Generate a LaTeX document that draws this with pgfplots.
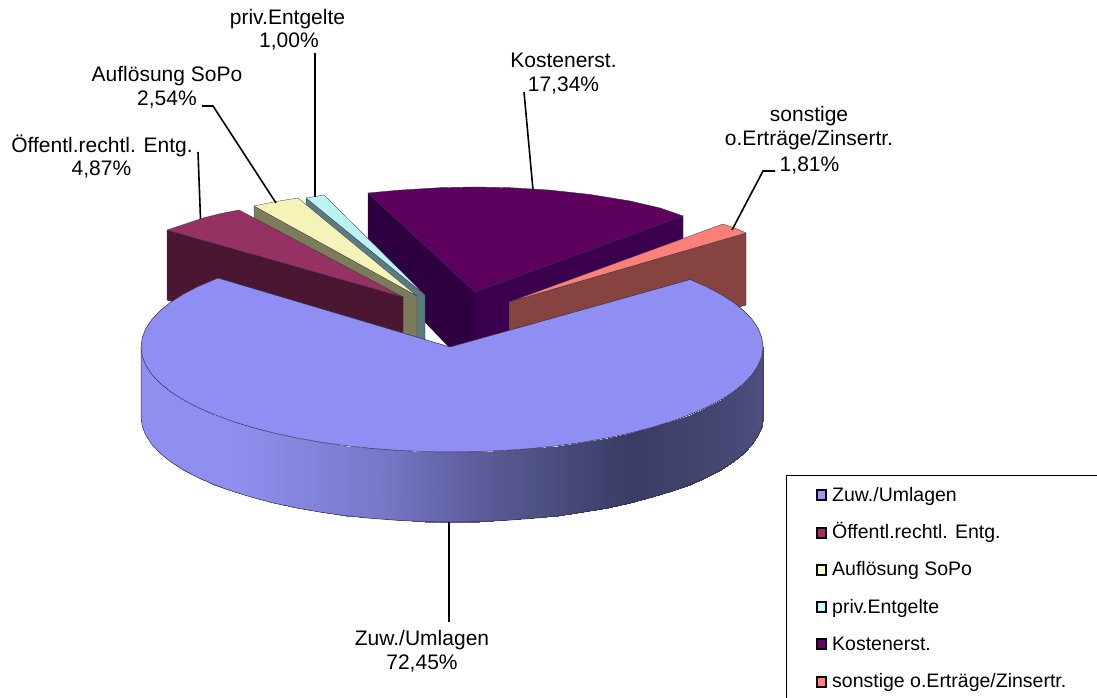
\documentclass[border=0pt]{standalone}
\usepackage{fontspec}
\setmainfont{Liberation Sans}
\usepackage{pgfplots}
\pgfplotsset{compat=1.18}
\definecolor{cA}{HTML}{8F8FF3}
\definecolor{lA}{HTML}{9999FF}
\definecolor{cB}{HTML}{953163}
\definecolor{sB}{HTML}{4B1632}
\definecolor{lB}{HTML}{993366}
\definecolor{cC}{HTML}{F6F3B9}
\definecolor{sC}{HTML}{7C7B5A}
\definecolor{lC}{HTML}{FFFFCC}
\definecolor{cD}{HTML}{BBF3F3}
\definecolor{sD}{HTML}{5A7C80}
\definecolor{lD}{HTML}{CCFFFF}
\definecolor{cE}{HTML}{5E005E}
\definecolor{sE}{HTML}{3A004E}
\definecolor{tE}{HTML}{2E0040}
\definecolor{lE}{HTML}{660066}
\definecolor{cF}{HTML}{FB8078}
\definecolor{sF}{HTML}{874340}
\definecolor{lF}{HTML}{FF8080}
\definecolor{edge}{HTML}{30304A}
\begin{document}
\begin{tikzpicture}
\useasboundingbox (0,0) rectangle (1097pt,698pt);
\begin{axis}[
  at={(0,0)}, anchor=south west,
  scale only axis, width=1097pt, height=698pt,
  xmin=0, xmax=1097, ymin=0, ymax=698, y dir=reverse,
  hide axis,
  colormap={sidemap}{rgb255(141pt)=(143,143,240); rgb255(234pt)=(143,143,240); rgb255(380pt)=(120,120,200); rgb255(480pt)=(92,92,154); rgb255(547pt)=(76,79,128); rgb255(630pt)=(58,60,102); rgb255(713pt)=(67,70,111); rgb255(763pt)=(77,80,128)},
]
% Kostenerst. sides and face
\addplot[fill=tE,draw=tE,line width=.4pt] coordinates {(368,193)(475,292)(475,374)(368,263)(368,193)};
\addplot[fill=sE,draw=sE,line width=.4pt] coordinates {(475,292)(683,216)(683,286)(475,374)(475,292)};
\addplot[fill=cE,draw=edge,line width=.4pt] coordinates {(368,193)(400,190.1)(440,187.7)(475,187)(510,187.7)(550,190.1)(590,194.5)(630,201)(660,208)(683,216)(475,292)(368,193)};
% sonstige
\addplot[fill=sF,draw=edge,line width=.4pt] coordinates {(509,302)(746,233)(746,305)(509,374)(509,302)};
\addplot[fill=cF,draw=edge,line width=.3pt] coordinates {(509,302)(723,224)(735,228)(746,233)(509,302)};
% priv.Entgelte
\addplot[fill=sD,draw=edge,line width=.4pt] coordinates {(306,198)(425,295)(425,365)(306,268)(306,198)};
\addplot[fill=cD,draw=edge,line width=.3pt] coordinates {(306,198)(324,195)(425,295)(306,198)};
% Aufloesung SoPo
\addplot[fill=sC,draw=edge,line width=.4pt] coordinates {(254,206)(417,296)(417,366)(254,276)(254,206)};
\addplot[fill=cC,draw=edge,line width=.3pt] coordinates {(254,206)(276,201.5)(298,198)(417,296)(254,206)};
% Oeffentl.rechtl.
\addplot[fill=sB,draw=edge,line width=.4pt] coordinates {(167,230)(403,297)(403,367)(167,300)(167,230)};
\addplot[fill=cB,draw=edge,line width=.3pt] coordinates {(167,230)(185,224)(203,218)(221,213.5)(239,210)(403,297)(167,230)};
% Zuw./Umlagen side
\addplot[surf,shader=interp,mesh/cols=37,mesh/rows=2,point meta=x] table {
x y
141.0 347.0
142.2 356.2
145.7 365.2
151.6 374.2
159.8 382.9
170.1 391.4
182.7 399.5
197.2 407.2
213.8 414.5
232.1 421.2
252.1 427.4
273.6 433.0
296.5 437.9
320.6 442.2
345.6 445.7
371.5 448.4
398.0 450.4
424.9 451.6
452.0 452.0
479.1 451.6
506.0 450.4
532.5 448.4
558.4 445.7
583.4 442.2
607.5 437.9
630.4 433.0
651.9 427.4
671.9 421.2
690.2 414.5
706.8 407.2
721.3 399.5
733.9 391.4
744.2 382.9
752.4 374.2
758.3 365.2
761.8 356.2
763.0 347.0
141.0 417.0
142.2 426.2
145.7 435.2
151.6 444.2
159.8 452.9
170.1 461.4
182.7 469.5
197.2 477.2
213.8 484.5
232.1 491.2
252.1 497.4
273.6 503.0
296.5 507.9
320.6 512.2
345.6 515.7
371.5 518.4
398.0 520.4
424.9 521.6
452.0 522.0
479.1 521.6
506.0 520.4
532.5 518.4
558.4 515.7
583.4 512.2
607.5 507.9
630.4 503.0
651.9 497.4
671.9 491.2
690.2 484.5
706.8 477.2
721.3 469.5
733.9 461.4
744.2 452.9
752.4 444.2
758.3 435.2
761.8 426.2
763.0 417.0
};
% outline of the side
\addplot[draw=edge,line width=.5pt] coordinates {(141,347)(141,417)(142.2,426.2)(145.7,435.2)(151.6,444.2)(159.8,452.9)(170.1,461.4)(182.7,469.5)(197.2,477.2)(213.8,484.5)(232.1,491.2)(252.1,497.4)(273.6,503)(296.5,507.9)(320.6,512.2)(345.6,515.7)(371.5,518.4)(398,520.4)(424.9,521.6)(452,522)(479.1,521.6)(506,520.4)(532.5,518.4)(558.4,515.7)(583.4,512.2)(607.5,507.9)(630.4,503)(651.9,497.4)(671.9,491.2)(690.2,484.5)(706.8,477.2)(721.3,469.5)(733.9,461.4)(744.2,452.9)(752.4,444.2)(758.3,435.2)(761.8,426.2)(763,417)(763,347)};
% Zuw./Umlagen top
\addplot[fill=cA,draw=edge,line width=.5pt] coordinates {(450,347)(690.2,279.5)(706.8,286.8)(721.3,294.5)(733.9,302.6)(744.2,311.1)(752.4,319.8)(758.3,328.8)(761.8,337.8)(763,347)(761.8,356.2)(758.3,365.2)(752.4,374.2)(744.2,382.9)(733.9,391.4)(721.3,399.5)(706.8,407.2)(690.2,414.5)(671.9,421.2)(651.9,427.4)(630.4,433)(607.5,437.9)(583.4,442.2)(558.4,445.7)(532.5,448.4)(506,450.4)(479.1,451.6)(452,452)(424.9,451.6)(398,450.4)(371.5,448.4)(345.6,445.7)(320.6,442.2)(296.5,437.9)(273.6,433)(252.1,427.4)(232.1,421.2)(213.8,414.5)(197.2,407.2)(182.7,399.5)(170.1,391.4)(159.8,382.9)(151.6,374.2)(145.7,365.2)(142.2,356.2)(141,347)(142.2,337.8)(145.7,328.8)(151.6,319.8)(159.8,311.1)(170.1,302.6)(182.7,294.5)(197.2,286.8)(218,278)(450,347)};
% leader lines
\addplot[black,line width=1.6pt] coordinates {(449,522)(449,622)};
\addplot[black,line width=1.6pt] coordinates {(198,152)(200.5,219)};
\addplot[black,line width=1.6pt] coordinates {(202,106)(213,106)(276,203)};
\addplot[black,line width=1.6pt] coordinates {(315,53)(315,197)};
\addplot[black,line width=1.6pt] coordinates {(524,92)(533,190)};
\addplot[black,line width=1.6pt] coordinates {(732,230)(763,171)(775,171)};
% legend box
\addplot[black,line width=.8pt] coordinates {(786,698)(786,475)(1097,475)};
% legend swatches
\addplot[only marks,mark=square*,mark size=4.8pt,mark options={fill=lA,draw=black,line width=2pt}] coordinates {(821.5,495)};
\addplot[only marks,mark=square*,mark size=4.8pt,mark options={fill=lB,draw=black,line width=2pt}] coordinates {(821.5,533)};
\addplot[only marks,mark=square*,mark size=4.8pt,mark options={fill=lC,draw=black,line width=2pt}] coordinates {(821.5,570)};
\addplot[only marks,mark=square*,mark size=4.8pt,mark options={fill=lD,draw=black,line width=2pt}] coordinates {(821.5,607)};
\addplot[only marks,mark=square*,mark size=4.8pt,mark options={fill=lE,draw=black,line width=2pt}] coordinates {(821.5,644)};
\addplot[only marks,mark=square*,mark size=4.8pt,mark options={fill=lF,draw=black,line width=2pt}] coordinates {(821.5,682)};
% pie labels
\tikzset{lab/.style={font=\fontsize{21}{24}\selectfont,inner sep=0pt,anchor=base},
 leg/.style={font=\fontsize{19.5}{23}\selectfont,inner sep=0pt,anchor=base west}}
\node[lab] at (axis cs:287.5,25) {priv.Entgelte};
\node[lab] at (axis cs:289,48) {1,00\%};
\node[lab] at (axis cs:563.5,68) {Kostenerst.};
\node[lab] at (axis cs:563.5,92) {17,34\%};
\node[lab] at (axis cs:809,122) {sonstige};
\node[lab] at (axis cs:809,146) {o.Erträge/Zinsertr.};
\node[lab] at (axis cs:809.5,171) {1,81\%};
\node[lab] at (axis cs:167,82) {Auflösung SoPo};
\node[lab] at (axis cs:167,106) {2,54\%};
\node[lab] at (axis cs:102,152) {Öffentl.rechtl. Entg.};
\node[lab] at (axis cs:101.5,175) {4,87\%};
\node[lab] at (axis cs:422,645) {Zuw./Umlagen};
\node[lab] at (axis cs:422,669) {72,45\%};
% legend texts
\node[leg] at (axis cs:832,501) {Zuw./Umlagen};
\node[leg] at (axis cs:832,538) {Öffentl.rechtl. Entg.};
\node[leg] at (axis cs:832,575) {Auflösung SoPo};
\node[leg] at (axis cs:832,613) {priv.Entgelte};
\node[leg] at (axis cs:832,650) {Kostenerst.};
\node[leg] at (axis cs:832,687) {sonstige o.Erträge/Zinsertr.};
\end{axis}
\end{tikzpicture}
\end{document}
